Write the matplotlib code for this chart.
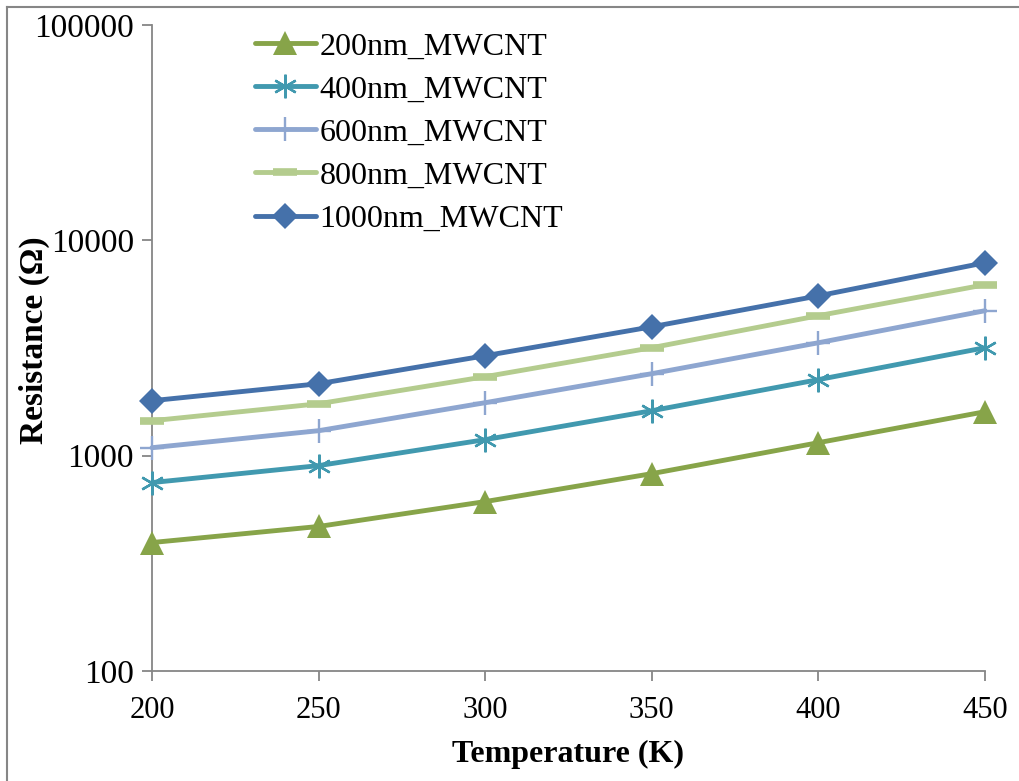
import matplotlib
matplotlib.use("Agg")
import matplotlib.pyplot as plt
from matplotlib.lines import Line2D
from matplotlib.ticker import FixedLocator, NullLocator, FixedFormatter

plt.rcParams['font.family'] = ['Liberation Serif', 'DejaVu Serif']

# Temperature (K)
temperature = [200, 250, 300, 350, 400, 450]

# Resistance (ohm) for each MWCNT length
r_200nm = [395, 469, 612, 825, 1149, 1600]
r_400nm = [750, 899, 1187, 1617, 2255, 3172]
r_600nm = [1089, 1306, 1762, 2403, 3345, 4712]
r_800nm = [1453, 1742, 2327, 3172, 4468, 6220]
r_1000nm = [1800, 2158, 2911, 3968, 5523, 7870]

labels = ["200nm_MWCNT", "400nm_MWCNT", "600nm_MWCNT", "800nm_MWCNT", "1000nm_MWCNT"]
x_ticks = [200, 250, 300, 350, 400, 450]
y_ticks = [100, 1000, 10000, 100000]
y_tick_labels = ["100", "1000", "10000", "100000"]

W, H = 1019, 781
fig = plt.figure(figsize=(W / 100, H / 100), dpi=100)
ax = fig.add_axes([152 / W, 1 - 671 / H, (985 - 152) / W, (671 - 25) / H])

lw = 3.5
styles = [
    dict(color="#87A449", marker="^", ms=17, mew=0),
    dict(color="#4199AF", marker=(6, 2, 0), ms=17, mew=1.7),
    dict(color="#8EA6D0", marker="+", ms=17, mew=1.7),
    dict(color="#B4CC8E", marker="_", ms=17, mew=5.5),
    dict(color="#4571AA", marker="D", ms=13, mew=0),
]
series = [r_200nm, r_400nm, r_600nm, r_800nm, r_1000nm]

for vals, lab, st in zip(series, labels, styles):
    ax.plot(temperature, vals, color=st["color"], lw=lw, marker=st["marker"],
            markersize=st["ms"], markeredgewidth=st["mew"],
            markerfacecolor=st["color"], markeredgecolor=st["color"],
            label=lab, solid_capstyle="round", clip_on=False, zorder=3)

ax.set_yscale("log")
ax.set_xlim(200, 450)
ax.set_ylim(100, 100000)
ax.yaxis.set_major_locator(FixedLocator(y_ticks))
ax.yaxis.set_major_formatter(FixedFormatter(y_tick_labels))
ax.yaxis.set_minor_locator(NullLocator())
ax.set_xticks(x_ticks)

for s in ("top", "right"):
    ax.spines[s].set_visible(False)
for s in ("left", "bottom"):
    ax.spines[s].set_color("#868686")
    ax.spines[s].set_linewidth(1.3)

ax.tick_params(axis="both", direction="out", color="#868686", width=1.3,
               length=7, labelcolor="black")
ax.tick_params(axis="y", pad=6, labelsize=24)
ax.tick_params(axis="x", pad=11, labelsize=22)

ax.set_xlabel("Temperature (K)", fontsize=23, fontweight="bold", labelpad=11)
ax.set_ylabel("Resistance (Ω)", fontsize=24, fontweight="bold")
ax.yaxis.set_label_coords(-(152 - 50) / (985 - 152), (671 - 340) / (671 - 25))

leg = ax.legend(loc="upper left", bbox_to_anchor=(255 / W, 1 - 32 / H),
                bbox_transform=fig.transFigure, frameon=False, fontsize=23,
                handlelength=1.9, handletextpad=0.12, labelspacing=0.43,
                borderpad=0, borderaxespad=0, markerscale=1.0)

# Outer chart frame (left and top edges)
fig.add_artist(Line2D([7 / W, 7 / W], [0, 1 - 7 / H], transform=fig.transFigure,
                      color="#868686", lw=1.5))
fig.add_artist(Line2D([7 / W, 1], [1 - 7 / H, 1 - 7 / H], transform=fig.transFigure,
                      color="#868686", lw=1.5))

fig.savefig("out.png", dpi=100)
